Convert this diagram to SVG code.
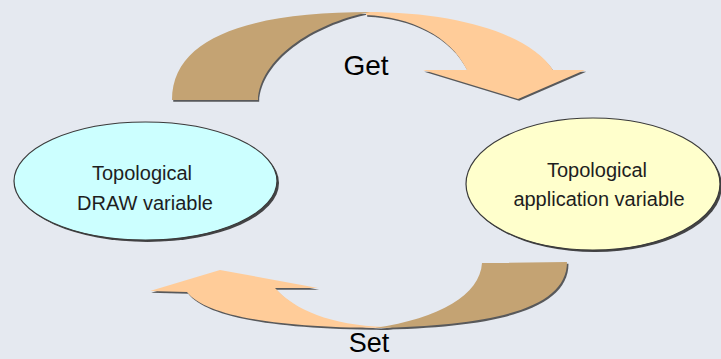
<svg xmlns="http://www.w3.org/2000/svg" width="721" height="359" viewBox="0 0 721 359">
  <style>
    .bg { fill: #e5e9f0; }
    .front { fill: #ffcc99; }
    .back { fill: #c4a373; }
    .shadow { fill: #2a2a2a; opacity: 0.75; }
    .node-shadow { fill: #1a1a1a; opacity: 0.8; }
    .node { stroke: #3a3a3a; stroke-width: 1.2; }
    .label { font-family: "Liberation Sans", Arial, sans-serif; fill: #1e1e1e; text-anchor: middle; }
    .big { font-size: 28px; fill: #000; }
    .set { font-size: 27px; }
    .small { font-size: 20px; }
  </style>
  <defs>
    <!-- upper curved arrow: dark back half and light front half -->
    <path id="getBack" d="M172,100 C172,35 255,12 370,12 C310,24 260,60 258,100 Z"/>
    <path id="getFront" d="M366,12 C460,12 530,35 553,70 L585,70 L518,99 L423,70 L467,70 C450,35 410,17 366,15 Z"/>
    <!-- lower curved arrow -->
    <path id="setFront" d="M150,291 L220,270 L318,288 L275,288 C295,310 330,325 385,327 L392,328 C270,328 205,315 187,292 Z"/>
    <path id="setBack" d="M482,263 L567,262 C567,308 495,326 375,328 C440,318 480,295 482,263 Z"/>
    <filter id="soft" x="-5%" y="-5%" width="110%" height="110%">
      <feGaussianBlur stdDeviation="0.6"/>
    </filter>
  </defs>

  <rect class="bg" x="0" y="0" width="721" height="359"/>

  <g id="connectors">
    <g id="get-arrow">
      <use href="#getFront" class="shadow" transform="translate(1.2,1.8)" filter="url(#soft)"/>
      <use href="#getBack" class="shadow" transform="translate(1.2,1.8)" filter="url(#soft)"/>
      <use href="#getFront" class="front"/>
      <use href="#getBack" class="back"/>
    </g>
    <g id="set-arrow">
      <use href="#setFront" class="shadow" transform="translate(1.2,1.8)" filter="url(#soft)"/>
      <use href="#setBack" class="shadow" transform="translate(1.5,1.8)" filter="url(#soft)"/>
      <use href="#setFront" class="front"/>
      <use href="#setBack" class="back"/>
    </g>
    <text class="label big" x="366" y="75">Get</text>
    <text class="label big set" x="369" y="352">Set</text>
  </g>

  <g id="draw-variable">
    <ellipse class="node-shadow" cx="147.5" cy="183" rx="131.5" ry="59" filter="url(#soft)"/>
    <ellipse class="node" cx="145.5" cy="181" rx="131.5" ry="59" fill="#ccffff"/>
    <text class="label small" x="142" y="180">Topological</text>
    <text class="label small" x="145" y="210">DRAW variable</text>
  </g>

  <g id="application-variable">
    <ellipse class="node-shadow" cx="595" cy="186" rx="127" ry="66" filter="url(#soft)"/>
    <ellipse class="node" cx="593" cy="184" rx="127" ry="66" fill="#ffffcc"/>
    <text class="label small" x="597" y="177">Topological</text>
    <text class="label small" x="599" y="206">application variable</text>
  </g>
</svg>
